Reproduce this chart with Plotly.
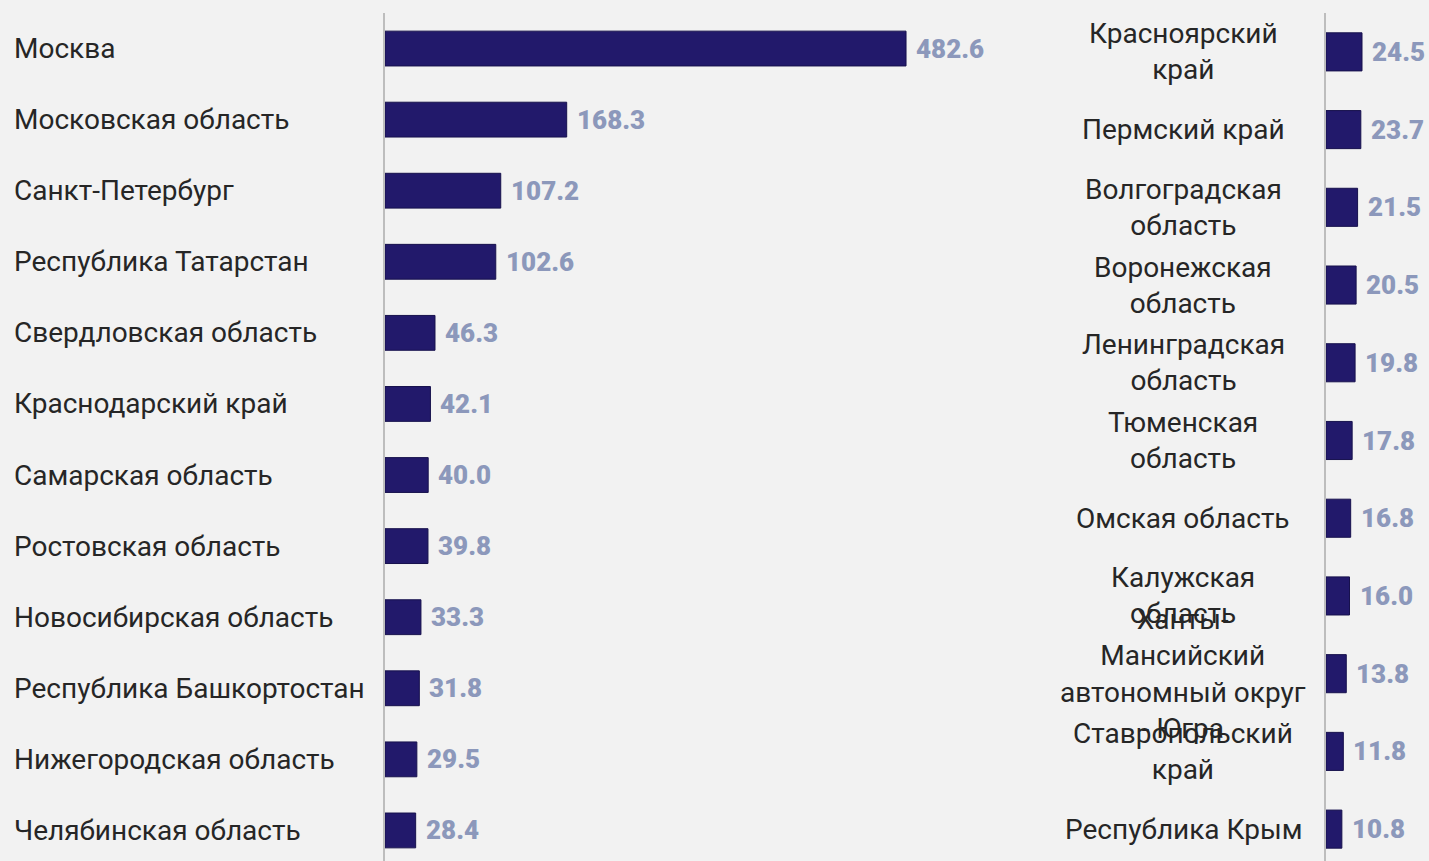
import plotly.graph_objects as go

left_regions = ["Москва", "Московская область", "Санкт-Петербург", "Республика Татарстан",
                "Свердловская область", "Краснодарский край", "Самарская область",
                "Ростовская область", "Новосибирская область", "Республика Башкортостан",
                "Нижегородская область", "Челябинская область"]
left_values = [482.6, 168.3, 107.2, 102.6, 46.3, 42.1, 40.0, 39.8, 33.3, 31.8, 29.5, 28.4]

right_regions = ["Красноярский край", "Пермский край", "Волгоградская область",
                 "Воронежская область", "Ленинградская область", "Тюменская область",
                 "Омская область", "Калужская область",
                 "Ханты-Мансийский автономный округ - Югра", "Ставропольский край",
                 "Республика Крым"]
right_labels = ["Красноярский<br>край", "Пермский край", "Волгоградская<br>область",
                "Воронежская<br>область", "Ленинградская<br>область", "Тюменская<br>область",
                "Омская область", "Калужская<br>область",
                "Ханты-<br>Мансийский<br>автономный округ<br>- Югра", "Ставропольский<br>край",
                "Республика Крым"]
right_values = [24.5, 23.7, 21.5, 20.5, 19.8, 17.8, 16.8, 16.0, 13.8, 11.8, 10.8]

BAR = "#22196b"
VAL = "#8c98bb"
BG = "#f2f2f2"
TXT = "#262626"
W, H = 1429, 861

fig = go.Figure()
fig.add_trace(go.Bar(
    x=left_values, y=left_regions, orientation="h", xaxis="x", yaxis="y",
    marker=dict(color=BAR, line=dict(color="#17114d", width=1)),
    width=0.49, hoverinfo="skip",
))
fig.add_trace(go.Bar(
    x=right_values, y=right_regions, orientation="h", xaxis="x2", yaxis="y2",
    marker=dict(color=BAR, line=dict(color="#17114d", width=1)),
    width=0.49, hoverinfo="skip",
))

val_font = dict(family="Roboto", size=26, color=VAL, weight=900)
lab_font = dict(family="Roboto", size=28, color=TXT)

annotations = []
for r, v in zip(left_regions, left_values):
    annotations.append(dict(x=12 / W, xref="paper", y=r, yref="y", text=r,
                            xanchor="left", yanchor="middle", showarrow=False, font=lab_font))
    annotations.append(dict(x=v, xref="x", y=r, yref="y", text=f"{v:.1f}", xshift=8,
                            xanchor="left", yanchor="middle", showarrow=False, font=val_font))
for r, lab, v in zip(right_regions, right_labels, right_values):
    annotations.append(dict(x=1183 / W, xref="paper", y=r, yref="y2", text=lab,
                            xanchor="center", yanchor="middle", align="center", showarrow=False,
                            font=lab_font))
    annotations.append(dict(x=v, xref="x2", y=r, yref="y2", text=f"{v:.1f}", xshift=8,
                            xanchor="left", yanchor="middle", showarrow=False, font=val_font))

fig.update_layout(
    width=W, height=H,
    margin=dict(l=0, r=0, t=13, b=0),
    paper_bgcolor=BG, plot_bgcolor=BG,
    showlegend=False,
    xaxis=dict(domain=[385 / W, 1029 / W], range=[0, 596.5], visible=False, fixedrange=True),
    yaxis=dict(range=[11.43, -0.5], showticklabels=False, showgrid=False, zeroline=False,
               showline=True, linecolor="#bdbdbd", linewidth=2, ticks=""),
    xaxis2=dict(domain=[1326 / W, 1.0], range=[0, 70.1], visible=False, fixedrange=True),
    yaxis2=dict(anchor="x2", range=[10.41, -0.5], showticklabels=False, showgrid=False,
                zeroline=False, showline=True, linecolor="#bdbdbd", linewidth=2, ticks=""),
    annotations=annotations,
)

fig.write_html("out.html", config={"displayModeBar": False},
               post_script="document.body.style.margin='0';document.body.style.background='#f2f2f2';")
